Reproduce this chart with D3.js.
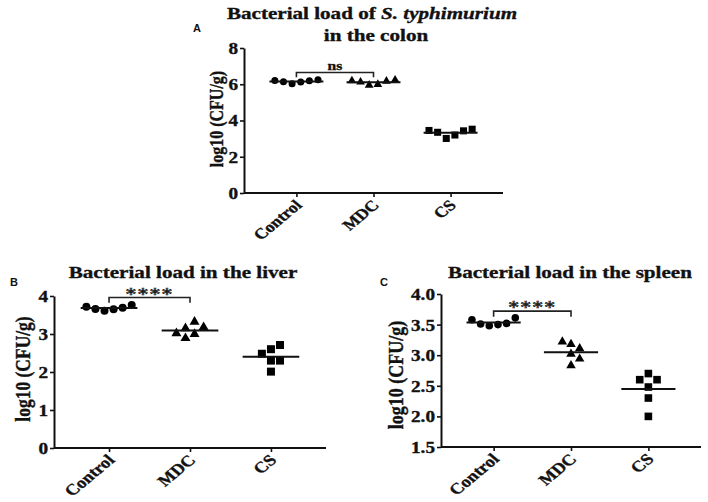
<!DOCTYPE html>
<html><head><meta charset="utf-8">
<script src="https://cdn.jsdelivr.net/npm/d3@7"></script>
<style>html,body{margin:0;padding:0;background:#fff}</style>
</head><body>
<svg id="chart" width="708" height="502"></svg>
<script>
// ---------- DATA ----------
const categories = ["Control", "MDC", "CS"];

const colonControl = [6.21, 6.14, 6.03, 6.12, 6.19, 6.25];
const colonMDC     = [6.19, 6.12, 5.95, 5.99, 6.17, 6.23];
const colonCS      = [3.45, 3.35, 3.01, 3.20, 3.43, 3.52];

const liverControl = [3.72, 3.66, 3.61, 3.65, 3.69, 3.76];
const liverMDC     = [3.18, 3.02, 3.15, 2.89, 3.32, 3.00];
const liverCS      = [2.60, 2.71, 2.48, 2.30, 2.30, 2.01];

const spleenControl = [3.58, 3.51, 3.48, 3.50, 3.52, 3.61];
const spleenMDC     = [3.11, 3.22, 3.02, 3.18, 2.94, 2.83];
const spleenCS      = [2.60, 2.70, 2.60, 2.48, 2.30, 2.00];

const colonTicks  = [0, 2, 4, 6, 8];
const liverTicks  = [0, 1, 2, 3, 4];
const spleenTicks = [1.5, 2.0, 2.5, 3.0, 3.5, 4.0];

const colonDomain  = [0, 8];
const liverDomain  = [0, 4];
const spleenDomain = [1.5, 4];

// significance bracket: [from, to, top value, leg value, label]
const colonSig  = ["Control", "MDC", 6.65, 6.39, "ns"];
const liverSig  = ["Control", "MDC", 3.96, 3.82, "****"];
const spleenSig = ["Control", "MDC", 3.72, 3.63, "****"];

const yLabel = "log10 (CFU/g)";
const shapes = ["circle", "triangle", "square"];

// ---------- DRAWING ----------
const svg = d3.select("#chart");
svg.append("rect").attr("width", 708).attr("height", 502).attr("fill", "#fff");
const SERIF = "'Liberation Serif','Times New Roman',serif";
const SX = 1.2; // horizontal stretch of the original figure
const INK = "#111";

function boldText(sel, fs) {
  return sel.attr("font-family", SERIF).attr("font-weight", "bold")
    .attr("font-size", fs).attr("fill", INK)
    .attr("stroke", INK).attr("stroke-width", 0.35);
}

function swarm(values, y, slotW, h) {
  const order = values.map((v, i) => i).sort((a, b) => values[a] - values[b]);
  const placed = [], slots = new Array(values.length);
  for (const i of order) {
    const py = y(values[i]);
    for (let k = 0; ; k++) {
      const s = k === 0 ? 0 : (k % 2 ? (k + 1) / 2 : -k / 2);
      if (!placed.some(p => p.s === s && Math.abs(p.y - py) < h)) {
        slots[i] = s; placed.push({s, y: py}); break;
      }
    }
  }
  const shift = (d3.min(slots) + d3.max(slots)) / 2;
  return slots.map(s => (s - shift) * slotW);
}

function panel(cfg) {
  const g = svg.append("g");
  const x = d3.scalePoint().domain(categories).range([cfg.x0, cfg.x1]).padding(0.68);
  const y = d3.scaleLinear().domain(cfg.domain).range([cfg.yb, cfg.yt]);
  const step = x.step();

  // axes
  const yAxis = g.append("g").attr("transform", `translate(${cfg.x0},0)`)
    .call(d3.axisLeft(y).tickValues(cfg.ticks).tickSize(4).tickSizeOuter(0)
      .tickFormat(cfg.fmt));
  const xAxis = g.append("g").attr("transform", `translate(0,${cfg.yb})`)
    .call(d3.axisBottom(x).tickSize(4).tickSizeOuter(0));
  xAxis.select(".domain").attr("d", `M${cfg.x0},0H${cfg.x1}`);
  [yAxis, xAxis].forEach(a => {
    a.select(".domain").attr("stroke", INK).attr("stroke-width", 2);
    a.selectAll(".tick line").attr("stroke", INK).attr("stroke-width", 1.6);
  });
  boldText(yAxis.selectAll(".tick text"), cfg.tickFs)
    .attr("x", null).attr("dy", "0.34em")
    .attr("transform", `translate(-6,0) scale(${SX},1)`);
  boldText(xAxis.selectAll(".tick text"), cfg.xFs)
    .attr("y", null).attr("dy", null).attr("text-anchor", "end")
    .attr("transform", `translate(6,13) scale(${SX},1) rotate(-45)`);

  // points
  cfg.series.forEach((vals, gi) => {
    const cx = x(categories[gi]);
    const offs = swarm(vals, y, step * 0.112, 9.5);
    const sym = shapes[gi];
    const k = cfg.msize;
    let gen;
    if (sym === "circle") gen = d3.symbol(d3.symbolCircle, Math.PI * (4 * k) ** 2);
    else if (sym === "square") gen = d3.symbol(d3.symbolSquare, (8 * k) ** 2);
    else gen = d3.symbol(d3.symbolTriangle, 0.433 * (10 * k) ** 2);
    g.selectAll(null).data(vals).enter().append("path")
      .attr("d", gen)
      .attr("transform", (d, i) => `translate(${cx + offs[i]},${y(d)})`)
      .attr("fill", "#000");
    const m = d3.mean(vals);
    g.append("line")
      .attr("x1", cx - step * 0.35).attr("x2", cx + step * 0.35)
      .attr("y1", y(m)).attr("y2", y(m))
      .attr("stroke", INK).attr("stroke-width", 2);
  });

  // significance bracket
  const [a, b, top, leg, lab] = cfg.sig;
  g.append("path")
    .attr("d", `M${x(a)},${y(leg)}V${y(top)}H${x(b)}V${y(leg)}`)
    .attr("fill", "none").attr("stroke", "#222").attr("stroke-width", 1.6);
  const mid = (x(a) + x(b)) / 2;
  if (lab === "ns") {
    boldText(g.append("text"), 13)
      .attr("transform", `translate(${mid},${y(top) - 2}) scale(${SX},1)`)
      .attr("text-anchor", "middle").text(lab);
  } else {
    g.append("text").attr("transform", `translate(${mid},${y(top) + 3}) scale(${SX},1)`)
      .attr("text-anchor", "middle").attr("font-family", SERIF)
      .attr("font-size", 18).attr("fill", "#aaa").attr("stroke", "#222")
      .attr("stroke-width", 0.7).attr("letter-spacing", "1px").text(lab);
  }

  // y label
  boldText(g.append("text"), cfg.ylFs)
    .attr("transform", `translate(${cfg.ylx},${cfg.yly}) scale(${SX},1) rotate(-90)`)
    .attr("text-anchor", "middle").text(yLabel);

  // panel letter
  g.append("text").attr("x", cfg.lx).attr("y", cfg.ly)
    .attr("font-family", "'Liberation Sans',Arial,sans-serif").attr("font-weight", "bold")
    .attr("font-size", 11).attr("fill", INK).text(cfg.letter);

  cfg.title(g);
}

panel({
  letter: "A", lx: 193, ly: 32,
  x0: 244, x1: 503, yb: 193, yt: 48, domain: colonDomain, ticks: colonTicks,
  fmt: d3.format("d"), tickFs: 16, xFs: 15, ylFs: 16, ylx: 223, yly: 119, msize: 0.88,
  series: [colonControl, colonMDC, colonCS], sig: colonSig,
  title: g => {
    const t1 = boldText(g.append("text"), 17.6)
      .attr("transform", `translate(372,19) scale(${SX},1)`).attr("text-anchor", "middle");
    t1.append("tspan").text("Bacterial load of ");
    t1.append("tspan").attr("font-style", "italic").text("S. typhimurium");
    boldText(g.append("text"), 17.6)
      .attr("transform", `translate(376,40.5) scale(${SX},1)`)
      .attr("text-anchor", "middle").text("in the colon");
  }
});

panel({
  letter: "B", lx: 10, ly: 286,
  x0: 54, x1: 326, yb: 448, yt: 296, domain: liverDomain, ticks: liverTicks,
  fmt: d3.format("d"), tickFs: 16, xFs: 15.5, ylFs: 17.5, ylx: 30, yly: 369, msize: 1.0,
  series: [liverControl, liverMDC, liverCS], sig: liverSig,
  title: g => {
    boldText(g.append("text"), 17.6)
      .attr("transform", `translate(183,278) scale(${SX},1)`)
      .attr("text-anchor", "middle").text("Bacterial load in the liver");
  }
});

panel({
  letter: "C", lx: 380, ly: 286,
  x0: 441, x1: 701, yb: 447, yt: 294, domain: spleenDomain, ticks: spleenTicks,
  fmt: d3.format(".1f"), tickFs: 16, xFs: 15.5, ylFs: 18, ylx: 403, yly: 375, msize: 0.95,
  series: [spleenControl, spleenMDC, spleenCS], sig: spleenSig,
  title: g => {
    boldText(g.append("text"), 17.6)
      .attr("transform", `translate(570,278) scale(${SX},1)`)
      .attr("text-anchor", "middle").text("Bacterial load in the spleen");
  }
});
</script>
</body></html>
